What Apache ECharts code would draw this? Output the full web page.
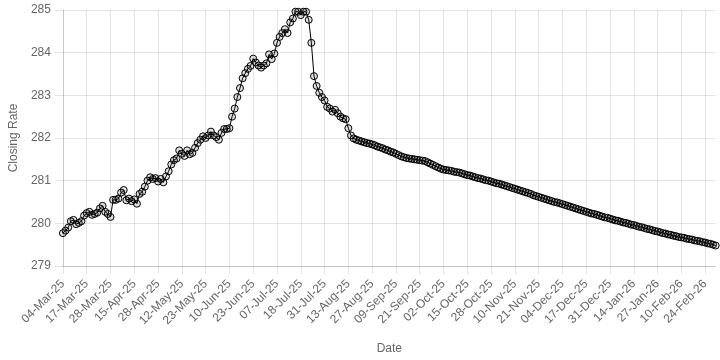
<!DOCTYPE html>
<html>
<head>
<meta charset="utf-8">
<script src="https://cdn.jsdelivr.net/npm/echarts@6/dist/echarts.min.js"></script>
<style>html,body{margin:0;padding:0;background:#fff}#c{width:720px;height:360px}</style>
</head>
<body>
<div id="c"></div>
<script>
// Tick labels shown on the x axis (one every 9 trading days)
const tickLabels = ["04-Mar-25","17-Mar-25","28-Mar-25","15-Apr-25","28-Apr-25","12-May-25","23-May-25","10-Jun-25","23-Jun-25","07-Jul-25","18-Jul-25","31-Jul-25","13-Aug-25","27-Aug-25","09-Sep-25","21-Sep-25","02-Oct-25","15-Oct-25","28-Oct-25","10-Nov-25","21-Nov-25","04-Dec-25","17-Dec-25","31-Dec-25","14-Jan-26","27-Jan-26","10-Feb-26","24-Feb-26"];
const labelStep = 9;

// Closing rate values
const closingRate = [
279.77,279.83,279.90,280.05,280.08,279.98,280.01,280.05,280.18,280.24,
280.27,280.20,280.22,280.25,280.35,280.41,280.27,280.22,280.15,280.55,
280.55,280.58,280.72,280.78,280.54,280.58,280.52,280.56,280.46,280.69,
280.74,280.86,281.00,281.08,281.04,281.06,280.98,281.04,280.96,281.10,
281.22,281.38,281.48,281.52,281.71,281.63,281.58,281.71,281.62,281.65,
281.77,281.88,281.96,282.04,282.00,282.06,282.15,282.06,282.02,281.96,
282.12,282.21,282.21,282.23,282.50,282.69,282.96,283.17,283.40,283.52,
283.62,283.69,283.86,283.77,283.70,283.65,283.70,283.75,283.96,283.85,
283.98,284.23,284.37,284.46,284.55,284.46,284.71,284.80,284.96,284.96,
284.88,284.96,284.96,284.77,284.23,283.45,283.22,283.06,282.96,282.88,
282.73,282.69,282.62,282.66,282.58,282.50,282.46,282.44,282.23,282.06,
281.99,281.96,281.94,281.92,281.90,281.88,281.87,281.85,281.83,281.80,
281.78,281.76,281.73,281.71,281.68,281.66,281.63,281.60,281.57,281.55,
281.53,281.52,281.51,281.50,281.49,281.48,281.47,281.46,281.43,281.40,
281.37,281.34,281.31,281.28,281.26,281.25,281.24,281.23,281.21,281.20,
281.19,281.17,281.15,281.13,281.12,281.10,281.08,281.06,281.05,281.03,
281.01,281.00,280.98,280.96,280.94,280.93,280.91,280.89,280.87,280.85,
280.83,280.81,280.79,280.77,280.75,280.73,280.71,280.69,280.66,280.64,
280.62,280.60,280.58,280.56,280.54,280.52,280.50,280.49,280.47,280.45,
280.43,280.41,280.39,280.37,280.35,280.33,280.31,280.29,280.27,280.25,
280.23,280.22,280.20,280.18,280.16,280.14,280.13,280.11,280.09,280.07,
280.06,280.04,280.02,280.01,279.99,279.97,279.96,279.94,279.92,279.91,
279.89,279.87,279.86,279.84,279.82,279.81,279.79,279.77,279.76,279.74,
279.73,279.71,279.70,279.68,279.67,279.66,279.64,279.63,279.62,279.60,
279.59,279.58,279.56,279.55,279.53,279.52,279.50,279.48
];

const yMin = 279, yMax = 285, yStep = 1;

const categories = closingRate.map((v, i) => (i % labelStep === 0 && tickLabels[i / labelStep]) ? tickLabels[i / labelStep] : '');

const gridColor = 'rgba(0,0,0,0.1)';
const axisColor = 'rgba(0,0,0,0.13)';
const font = 'Liberation Sans, Arial, Helvetica, sans-serif';

const chart = echarts.init(document.getElementById('c'), null, {renderer: 'canvas'});
chart.setOption({
  animation: false,
  backgroundColor: '#fff',
  grid: {left: 56.7, right: 4.3, top: 10, bottom: 90, containLabel: false},
  xAxis: {
    type: 'category',
    data: categories,
    boundaryGap: false,
    name: 'Date',
    nameLocation: 'middle',
    nameGap: 77,
    nameTextStyle: {color: '#666', fontSize: 12, fontFamily: font},
    axisLine: {show: true, lineStyle: {color: axisColor, width: 1}},
    axisTick: {show: true, interval: labelStep - 1, length: 8, lineStyle: {color: gridColor}},
    splitLine: {show: true, interval: labelStep - 1, lineStyle: {color: gridColor, width: 1}},
    axisLabel: {
      interval: labelStep - 1,
      rotate: 45,
      margin: 16,
      color: '#666',
      fontSize: 12,
      fontFamily: font
    }
  },
  yAxis: {
    type: 'value',
    min: yMin, max: yMax, interval: yStep,
    name: 'Closing Rate',
    nameLocation: 'middle',
    nameGap: 42,
    nameTextStyle: {color: '#666', fontSize: 12, fontFamily: font},
    axisLine: {show: true, lineStyle: {color: axisColor, width: 1}},
    axisTick: {show: true, length: 8, lineStyle: {color: gridColor}},
    splitLine: {show: true, lineStyle: {color: gridColor, width: 1}},
    axisLabel: {margin: 12, color: '#666', fontSize: 12, fontFamily: font}
  },
  series: [{
    type: 'line',
    data: closingRate,
    showAllSymbol: true,
    symbol: 'circle',
    symbolSize: 7,
    itemStyle: {color: 'rgba(0,0,0,0.12)', borderColor: '#000', borderWidth: 1},
    lineStyle: {color: '#000', width: 1},
    emphasis: {disabled: true}
  }]
});
</script>
</body>
</html>
